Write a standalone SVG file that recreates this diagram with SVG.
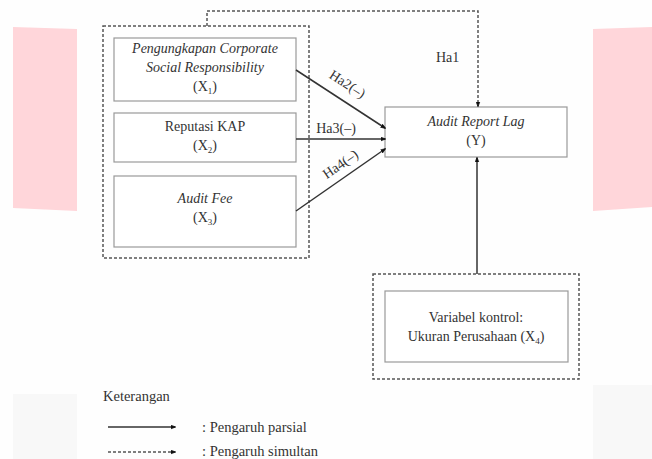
<svg xmlns="http://www.w3.org/2000/svg" width="652" height="459" viewBox="0 0 652 459">
<defs>
<marker id="dot" viewBox="0 0 6 6" refX="5" refY="3" markerWidth="5" markerHeight="5" markerUnits="userSpaceOnUse" orient="auto">
<path d="M0,0.8 L6,3 L0,5.2 Z" fill="#111" stroke="#111" stroke-width="0.8" stroke-linejoin="round"/>
</marker>
<style>
text{font-family:"Liberation Serif","Times New Roman",serif;fill:#333;font-size:14px}
.it{font-style:italic}
.lg{font-size:14.5px}
.box{fill:#fff;stroke:#999;stroke-width:1.2}
.dbox{fill:none;stroke:#555;stroke-width:1.5;stroke-dasharray:3 2}
.solid{stroke:#333;stroke-width:1.5;fill:none;marker-end:url(#dot)}
.dash{stroke:#555;stroke-width:1.5;fill:none;stroke-dasharray:3 2;marker-end:url(#dot)}
</style>
</defs>
<rect width="652" height="459" fill="#fefefe"/>
<g id="background">
<polygon points="13,27 77,29 77,211 13,208" fill="#ffd6da"/>
<polygon points="593,29 652,27 652,207 593,211" fill="#ffd6da"/>
<rect x="13" y="394" width="64" height="65" fill="#f8f8f8"/>
<rect x="593" y="385" width="59" height="74" fill="#f8f8f8"/>
</g>
<g id="group-x">
<rect class="dbox" x="103" y="26" width="206" height="232"/>
</g>
<g id="x1">
<rect class="box" x="114" y="38" width="182" height="63"/>
<text class="it" x="205" y="53" text-anchor="middle">Pengungkapan Corporate</text>
<text class="it" x="205" y="72" text-anchor="middle">Social Responsibility</text>
<text x="205" y="91" text-anchor="middle">(X<tspan font-size="9" dy="3">1</tspan><tspan dy="-3">)</tspan></text>
</g>
<g id="x2">
<rect class="box" x="114" y="113" width="182" height="49"/>
<text x="205" y="131" text-anchor="middle">Reputasi KAP</text>
<text x="205" y="150" text-anchor="middle">(X<tspan font-size="9" dy="3">2</tspan><tspan dy="-3">)</tspan></text>
</g>
<g id="x3">
<rect class="box" x="114" y="176" width="182" height="71"/>
<text class="it" x="205" y="203" text-anchor="middle">Audit Fee</text>
<text x="205" y="222" text-anchor="middle">(X<tspan font-size="9" dy="3">3</tspan><tspan dy="-3">)</tspan></text>
</g>
<g id="y">
<rect class="box" x="385" y="107" width="182" height="50"/>
<text class="it" x="476" y="126" text-anchor="middle">Audit Report Lag</text>
<text x="476" y="145" text-anchor="middle">(Y)</text>
</g>
<g id="control">
<rect class="dbox" x="373" y="274" width="206" height="105"/>
<rect class="box" x="385" y="291" width="183" height="71"/>
<text x="476" y="322" text-anchor="middle">Variabel kontrol:</text>
<text x="476" y="341" text-anchor="middle">Ukuran Perusahaan (X<tspan font-size="9" dy="3">4</tspan><tspan dy="-3">)</tspan></text>
</g>
<g id="connectors">
<path class="dash" d="M207,26 V11 H478 V106"/>
<path class="solid" d="M296,70 L385,128"/>
<path class="solid" d="M296,139 L385,139"/>
<path class="solid" d="M296,211 L385,149"/>
<path class="solid" d="M477,274 V158"/>
<text x="436" y="62">Ha1</text>
<text x="0" y="0" text-anchor="middle" transform="translate(345,88) rotate(33)">Ha2(–)</text>
<text x="336" y="133" text-anchor="middle">Ha3(–)</text>
<text x="0" y="0" text-anchor="middle" transform="translate(343,168) rotate(-35)">Ha4(–)</text>
</g>
<g id="legend">
<text class="lg" x="103" y="401">Keterangan</text>
<path class="solid" d="M108,427 H175"/>
<text class="lg" x="202" y="432">: Pengaruh parsial</text>
<path class="dash" d="M108,452 H175"/>
<text class="lg" x="202" y="456">: Pengaruh simultan</text>
</g>
</svg>
